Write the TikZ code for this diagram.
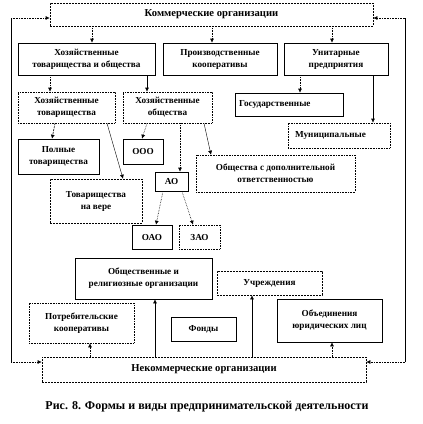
\documentclass[tikz,border=0pt]{standalone}
\usepackage{fontspec}
\setmainfont{Liberation Serif}
\usetikzlibrary{arrows.meta}
\colorlet{ink}{black}
\tikzset{
  orgbox/.style={draw=ink, line width=0.6pt, align=center, inner sep=1pt,
    font=\fontsize{9.2}{12}\selectfont\bfseries},
  dotbox/.style={orgbox, densely dotted},
  dashbox/.style={orgbox, dash pattern=on 2pt off 1pt},
  bigtext/.style={font=\fontsize{10.6}{12}\selectfont\bfseries},
  link/.style={line width=0.6pt, -{Latex[length=4pt,width=4pt]}},
  dotlink/.style={link, densely dotted},
}

\begin{document}
\begin{tikzpicture}[x=1pt,y=-1pt]
  \useasboundingbox (0,0) rectangle (423,424);
% commercial
\node[dashbox, bigtext, minimum width=323pt, minimum height=23pt] (kom) at (211.5,14.5) {Коммерческие организации};
\node[orgbox, minimum width=137pt, minimum height=32pt] (htio) at (86.5,59) {Хозяйственные\\товарищества и общества};
\node[orgbox, minimum width=114pt, minimum height=32pt] (pk) at (220,59) {Производственные\\кооперативы};
\node[orgbox, minimum width=104pt, minimum height=32pt] (up) at (336,59) {Унитарные\\предприятия};
\node[dotbox, minimum width=97pt, minimum height=31pt] (ht) at (66.5,107.5) {Хозяйственные\\товарищества};
\node[dotbox, minimum width=89pt, minimum height=31pt] (ho) at (167.5,107.5) {Хозяйственные\\общества};
\node[orgbox, minimum width=108pt, minimum height=23pt, text width=100pt, align=left] (gos) at (289,104.5) {Государственные};
\node[dotbox, minimum width=102pt, minimum height=25pt, text width=94pt, align=left] (mun) at (339,135.5) {\ Муниципальные};
\node[orgbox, minimum width=81pt, minimum height=35pt] (pt) at (58.5,156.5) {Полные\\товарищества};
\node[orgbox, minimum width=40pt, minimum height=25pt] (ooo) at (143,151.5) {ООО};
\node[dotbox, minimum width=159pt, minimum height=37pt] (odo) at (275.5,173.5) {Общества с дополнительной\\ответственностью};
\node[orgbox, minimum width=33pt, minimum height=19pt] (ao) at (171.5,181.5) {АО};
\node[dashbox, minimum width=92pt, minimum height=44pt] (tnv) at (96,201) {Товарищества\\на вере};
\node[orgbox, minimum width=40pt, minimum height=24pt] (oao) at (152,237) {ОАО};
\node[dotbox, minimum width=41pt, minimum height=24pt] (zao) at (199.5,237) {ЗАО};
% non-commercial
\node[orgbox, minimum width=137pt, minimum height=41pt] (oro) at (143.5,278.5) {Общественные и\\религиозные организации};
\node[dashbox, minimum width=105pt, minimum height=24pt] (uch) at (269.5,283) {Учреждения};
\node[dotbox, minimum width=105pt, minimum height=40pt] (potr) at (81.5,323) {Потребительские\\кооперативы};
\node[orgbox, minimum width=65pt, minimum height=24pt] (fond) at (203.5,329) {Фонды};
\node[orgbox, minimum width=105pt, minimum height=43pt] (obj) at (329.5,320.5) {Объединения\\юридических лиц};
\node[dashbox, bigtext, minimum width=324pt, minimum height=25pt] (nek) at (204,369.5) {Некоммерческие организации};
\node[font=\fontsize{12}{14}\selectfont\bfseries] (cap) at (207,407) {Рис. 8. Формы и виды предпринимательской деятельности};
% links
\draw[dotlink] ([xshift=5.5pt]htio.north |- kom.south) -- ([xshift=5.5pt]htio.north);
\draw[dotlink] ([xshift=-8pt]pk.north |- kom.south) -- ([xshift=-8pt]pk.north);
\draw[dotlink] ([xshift=-4pt]up.north |- kom.south) -- ([xshift=-4pt]up.north);
\draw[dotlink] ([xshift=-16.5pt]ht.north |- htio.south) -- ([xshift=-16.5pt]ht.north);
\draw[link] ([xshift=-20.5pt]ho.north |- htio.south) -- ([xshift=-20.5pt]ho.north);
\draw[dotlink] ([xshift=11pt]gos.north |- up.south) -- ([xshift=11pt]gos.north);
\draw[link] ([xshift=34pt]mun.north |- up.south) -- ([xshift=34pt]mun.north);
\draw[link, dash pattern=on 2pt off 1pt] ([xshift=-11.5pt]ht.south) -- ([xshift=-6.5pt]pt.north);
\draw[link, line width=0.4pt] ([xshift=40.5pt]ht.south) -- ([xshift=27pt]tnv.north);
\draw[dotlink] ([xshift=-20.5pt]ho.south) -- ([xshift=-1pt]ooo.north);
\draw[dotlink] ([xshift=12.5pt]ho.south) -- ([xshift=12.5pt]ho.south |- ao.north);
\draw[link, line width=0.4pt] ([xshift=36.5pt]ho.south) -- ([xshift=-64.5pt]odo.north);
\draw[dotlink] ([xshift=-8.5pt]ao.south) -- ([xshift=4pt]oao.north);
\draw[dotlink] ([xshift=10.5pt]ao.south) -- ([xshift=-6.5pt]zao.north);
\draw[dotlink] ([xshift=8.5pt]potr.south |- nek.north) -- ([xshift=8.5pt]potr.south);
\draw[link] ([xshift=11.5pt]oro.south |- nek.north) -- ([xshift=11.5pt]oro.south);
\draw[link] ([xshift=-17.5pt]uch.south |- nek.north) -- ([xshift=-17.5pt]uch.south);
\draw[dotlink] ([xshift=2.5pt]obj.south |- nek.north) -- ([xshift=2.5pt]obj.south);
% side loops
\coordinate (lt) at (11,18);
\coordinate (lb) at (11,362);
\coordinate (rt) at (405,18);
\coordinate (rb) at (405,362);
\draw[line width=0.6pt] (lt) -- (lb);
\draw[line width=0.6pt] (rt) -- (rb);
\draw[dotlink] (lt) -- (lt -| kom.west);
\draw[dotlink] (lb) -- (lb -| nek.west);
\draw[dotlink] (rt) -- (rt -| kom.east);
\draw[dotlink] (rb) -- (rb -| nek.east);
\end{tikzpicture}
\end{document}
